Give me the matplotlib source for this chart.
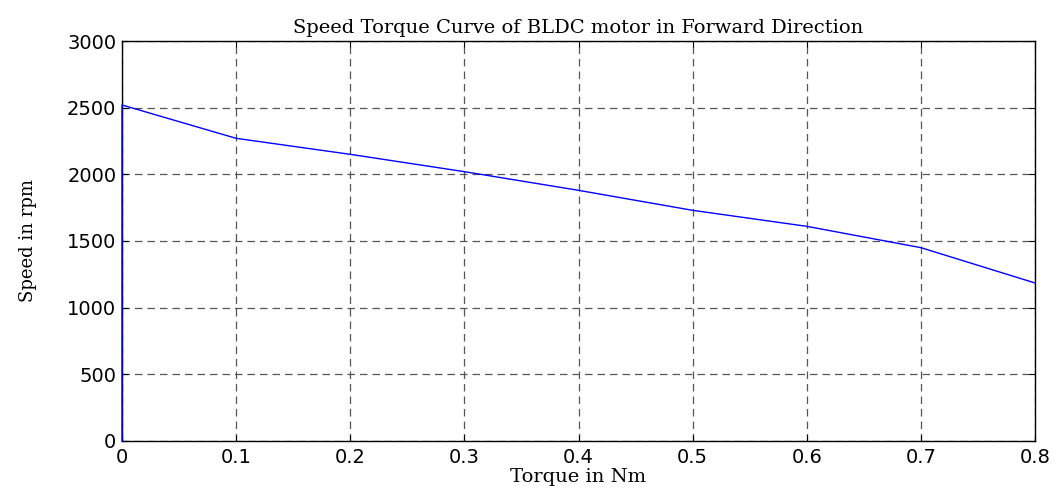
import matplotlib
matplotlib.use('Agg')
import matplotlib.pyplot as plt

# Torque (Nm) vs speed (rpm)
torque = [0, 0, 0.1, 0.2, 0.3, 0.4, 0.5, 0.6, 0.7, 0.8]
speed = [0, 2520, 2270, 2150, 2020, 1880, 1730, 1610, 1450, 1185]

xticks = [0, 0.1, 0.2, 0.3, 0.4, 0.5, 0.6, 0.7, 0.8]
xtick_labels = ['0', '0.1', '0.2', '0.3', '0.4', '0.5', '0.6', '0.7', '0.8']
yticks = [0, 500, 1000, 1500, 2000, 2500, 3000]

fig = plt.figure(figsize=(10.63, 4.94), dpi=100)
ax = fig.add_axes([0.1148, 0.1073, 0.8589, 0.8097])

ax.plot(torque, speed, color='#0000ff', linewidth=1.0, zorder=3, clip_on=False)

ax.set_xlim(0, 0.8)
ax.set_ylim(0, 3000)
ax.set_xticks(xticks)
ax.set_xticklabels(xtick_labels)
ax.set_yticks(yticks)

ax.grid(True, linestyle=(0, (6, 4)), color='#555555', linewidth=0.9)
ax.tick_params(direction='in', length=4, top=True, right=True, width=0.8,
               labelsize=14)
ax.tick_params(axis='x', pad=5)
ax.tick_params(axis='y', pad=4)
for lbl in ax.get_xticklabels() + ax.get_yticklabels():
    lbl.set_family('DejaVu Sans')
for s in ax.spines.values():
    s.set_linewidth(1.0)

ax.set_title('Speed Torque Curve of BLDC motor in Forward Direction',
             family='DejaVu Serif', fontsize=14, pad=6)
ax.set_xlabel('Torque in Nm', family='DejaVu Serif', fontsize=14, labelpad=1)
ax.set_ylabel('Speed in rpm', family='DejaVu Serif', fontsize=13, labelpad=22)

fig.savefig('out.png', dpi=100)
